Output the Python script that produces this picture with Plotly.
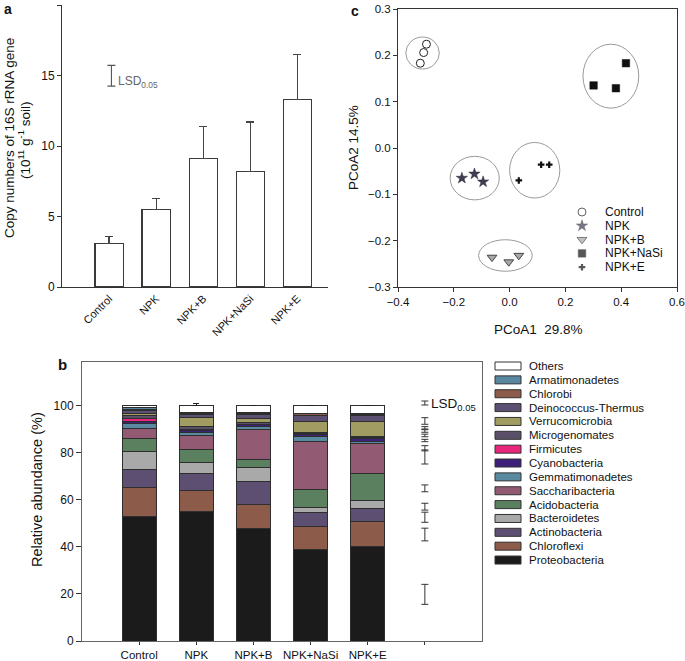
import plotly.graph_objects as go

# ---------------- data ----------------
# Panel a: 16S rRNA gene copy numbers
treatments = ["Control", "NPK", "NPK+B", "NPK+NaSi", "NPK+E"]
copy_numbers = [3.1, 5.5, 9.1, 8.2, 13.3]
copy_err = [0.5, 0.8, 2.3, 3.5, 3.2]
lsd_a_low, lsd_a_high = 14.25, 15.72

# Panel b: relative abundance (%) - stacked bottom -> top
phyla = ["Proteobacteria", "Chloroflexi", "Actinobacteria", "Bacteroidetes",
         "Acidobacteria", "Saccharibacteria", "Gemmatimonadetes", "Cyanobacteria",
         "Firmicutes", "Microgenomates", "Verrucomicrobia", "Deinococcus-Thermus",
         "Chlorobi", "Armatimonadetes", "Others"]
phyla_colors = ["#1b1b1b", "#8c5b49", "#5c4f72", "#a9a9a9",
                "#5b8060", "#925b73", "#5a8aa0", "#3d2079",
                "#e8267c", "#5a5068", "#a19c62", "#5b5072",
                "#8c5b49", "#5a87a0", "#ffffff"]
abund_control = [52.9, 12.3, 7.8, 7.6, 5.4, 4.5, 1.9, 1.2, 1.0, 1.4, 0.8, 1.2, 0.6, 0.6, 0.8]
abund_npk = [55.0, 9.0, 7.3, 4.7, 5.4, 6.1, 1.0, 1.0, 0.3, 1.3, 3.9, 1.2, 0.5, 0.4, 2.9]
abund_npkb = [47.7, 10.5, 9.6, 6.0, 3.6, 12.4, 1.3, 0.8, 0.2, 0.9, 1.8, 1.7, 0.4, 0.3, 2.8]
abund_npknasi = [39.0, 9.7, 5.9, 2.2, 7.5, 20.6, 2.2, 0.8, 0.2, 0.6, 4.9, 2.4, 0.6, 0.4, 3.0]
abund_npke = [40.1, 10.7, 5.7, 3.2, 11.6, 12.7, 1.0, 1.2, 0.2, 0.8, 6.1, 2.5, 0.5, 0.7, 3.0]
err_control = [0.9, 1.4, 0.8, 0.6, 0.5, 0.4, 0.3, 0.3, 0.3, 0.3, 0.3, 0.3, 0.3, 0.2, 0.0]
err_npk = [2.6, 3.1, 2.3, 1.0, 0.3, 0.3, 0.4, 0.3, 0.3, 0.6, 0.4, 0.5, 0.3, 0.3, 1.0]
err_npkb = [4.8, 0.3, 0.3, 1.8, 1.0, 0.3, 1.5, 0.4, 0.3, 0.4, 0.4, 0.3, 0.3, 0.2, 0.3]
err_npknasi = [2.7, 1.3, 1.0, 0.6, 1.8, 1.2, 1.5, 0.4, 0.3, 0.4, 1.4, 0.5, 0.3, 0.2, 0.3]
err_npke = [0.5, 1.7, 0.7, 0.8, 0.8, 0.3, 0.3, 0.4, 0.3, 0.4, 1.3, 0.5, 0.3, 0.3, 0.3]
lsd_b_low = [100.4, 92.2, 90.2, 88.8, 86.9, 84.8, 80.9, 75.3, 63.5, 55.7, 50.5, 42.6, 15.6]
lsd_b_high = [102.1, 95.0, 91.2, 89.9, 88.0, 85.8, 83.1, 81.3, 66.4, 58.6, 54.8, 48.0, 24.1]

# Panel c: PCoA scores
pc_groups = ["Control", "NPK", "NPK+B", "NPK+NaSi", "NPK+E"]
pc1 = {
    "Control": [-0.298, -0.308, -0.320],
    "NPK": [-0.171, -0.126, -0.095],
    "NPK+B": [-0.063, -0.003, 0.033],
    "NPK+NaSi": [0.301, 0.381, 0.417],
    "NPK+E": [0.033, 0.113, 0.142],
}
pc2 = {
    "Control": [0.224, 0.206, 0.183],
    "NPK": [-0.065, -0.056, -0.073],
    "NPK+B": [-0.236, -0.246, -0.232],
    "NPK+NaSi": [0.135, 0.129, 0.183],
    "NPK+E": [-0.070, -0.036, -0.036],
}
ell_cx = [-0.312, -0.125, -0.015, 0.363, 0.090]
ell_cy = [0.205, -0.065, -0.232, 0.155, -0.048]
ell_rx = [0.060, 0.088, 0.096, 0.100, 0.090]
ell_ry = [0.0345, 0.047, 0.034, 0.069, 0.060]

# ---------------- figure ----------------
W, H = 685, 661
FONT = "Arial, Liberation Sans, sans-serif"
fig = go.Figure()

# ---- panel a ----
xa = list(range(len(treatments)))
fig.add_trace(go.Bar(
    x=xa, y=copy_numbers, width=0.6, xaxis="x", yaxis="y",
    marker=dict(color="white", line=dict(color="#3a3a3a", width=1.2)),
    error_y=dict(type="data", symmetric=False, array=copy_err,
                 arrayminus=[0] * len(copy_err), color="#454545", thickness=1.2, width=4),
    showlegend=False, hoverinfo="skip"))
fig.add_trace(go.Scatter(
    x=[0.05], y=[(lsd_a_low + lsd_a_high) / 2], mode="markers", xaxis="x", yaxis="y",
    marker=dict(size=1, opacity=0),
    error_y=dict(type="data", array=[(lsd_a_high - lsd_a_low) / 2], color="#555",
                 thickness=1.1, width=4),
    showlegend=False, hoverinfo="skip"))

# ---- panel b ----
all_abund = [abund_control, abund_npk, abund_npkb, abund_npknasi, abund_npke]
all_err = [err_control, err_npk, err_npkb, err_npknasi, err_npke]
for k, name in enumerate(phyla):
    fig.add_trace(go.Bar(
        x=xa, y=[a[k] for a in all_abund], width=0.6, name=name,
        xaxis="x3", yaxis="y3",
        marker=dict(color=phyla_colors[k], line=dict(color="#2e2e2e", width=1)),
        error_y=dict(type="data", symmetric=False, array=[e[k] for e in all_err],
                     arrayminus=[0] * 5, color="#222", thickness=1, width=3),
        showlegend=False, hoverinfo="skip"))
fig.add_trace(go.Scatter(
    x=[5] * len(lsd_b_low), y=[(l + h) / 2 for l, h in zip(lsd_b_low, lsd_b_high)],
    mode="markers", xaxis="x3", yaxis="y3", marker=dict(size=1, opacity=0),
    error_y=dict(type="data", array=[(h - l) / 2 for l, h in zip(lsd_b_low, lsd_b_high)],
                 color="#333", thickness=1, width=3.5),
    showlegend=False, hoverinfo="skip"))

# ---- panel c ----
pc_style = {
    "Control": dict(symbol="circle", size=8, color="white", line=dict(color="#222", width=1)),
    "NPK": dict(symbol="star", size=8.5, color="#3e3d52", line=dict(color="#2a2a3a", width=0.5)),
    "NPK+B": dict(symbol="triangle-down", size=8.5, color="#a8a8a8", line=dict(color="#444", width=1)),
    "NPK+NaSi": dict(symbol="square", size=7.5, color="#111", line=dict(color="#111", width=0.5)),
    "NPK+E": dict(symbol="cross", size=5.5, color="#111", line=dict(width=0)),
}
for g in pc_groups:
    fig.add_trace(go.Scatter(x=pc1[g], y=pc2[g], mode="markers", xaxis="x2", yaxis="y2",
                             marker=pc_style[g], showlegend=False, hoverinfo="skip"))

shapes = []
for cx, cy, rx, ry in zip(ell_cx, ell_cy, ell_rx, ell_ry):
    shapes.append(dict(type="circle", xref="x2", yref="y2", x0=cx - rx, x1=cx + rx,
                       y0=cy - ry, y1=cy + ry, line=dict(color="#9a9a9a", width=1)))

# legend for panel c (pixel-coordinate helper axes)
leg_c_y0, leg_c_dy = 212, 13.8
fig.add_trace(go.Scatter(x=[582] * 5, y=[leg_c_y0 + i * leg_c_dy for i in range(5)],
                         mode="markers", xaxis="x4", yaxis="y4", showlegend=False,
                         hoverinfo="skip", marker=dict(
                             symbol=[pc_style[g]["symbol"] for g in pc_groups],
                             size=[pc_style[g]["size"] for g in pc_groups],
                             color=[pc_style[g]["color"] for g in pc_groups],
                             line=dict(color=["#222", "#2a2a3a", "#444", "#111", "#111"],
                                       width=[1, 0.5, 1, 0.5, 0]))))
annotations = []
for i, g in enumerate(pc_groups):
    annotations.append(dict(x=603, y=leg_c_y0 + i * leg_c_dy, xref="x4", yref="y4", text=g,
                            showarrow=False, xanchor="left", yanchor="middle",
                            font=dict(family=FONT, size=12, color="#111")))

# legend for panel b
leg_b_y0, leg_b_dy = 366, 13.86
for i, k in enumerate(reversed(range(len(phyla)))):
    yc = leg_b_y0 + i * leg_b_dy
    shapes.append(dict(type="rect", xref="x4", yref="y4", x0=495, x1=521, y0=yc - 4, y1=yc + 4,
                       fillcolor=phyla_colors[k], line=dict(color="#333", width=1)))
    annotations.append(dict(x=527, y=yc, xref="x4", yref="y4", text=phyla[k], showarrow=False,
                            xanchor="left", yanchor="middle",
                            font=dict(family=FONT, size=11.5, color="#111")))

# titles, labels
def ann(x, y, text, size, angle=0, xanchor="center", color="#111", bold=False):
    annotations.append(dict(x=x, y=y, xref="x4", yref="y4", text=f"<b>{text}</b>" if bold else text,
                            showarrow=False, textangle=angle, xanchor=xanchor, yanchor="middle",
                            font=dict(family=FONT, size=size, color=color)))

ann(8, 9, "a", 14, bold=True)
ann(62, 364, "b", 15, bold=True)
ann(355, 11, "c", 14, bold=True)
ann(9, 138, "Copy numbers of 16S rRNA gene", 13.5, angle=-90)
ann(24, 140, "(10<sup>11</sup> g<sup>-1</sup> soil)", 13.5, angle=-90)
ann(116, 82, "LSD<sub>0.05</sub>", 12, xanchor="left", color="#666")
ann(37, 490, "Relative abundance (%)", 14.5, angle=-90)
ann(429, 404, "LSD<sub>0.05</sub>", 13.5, xanchor="left")
ann(538, 329, "PCoA1  29.8%", 13.5)
ann(353, 148, "PCoA2 14.5%", 13.5, angle=-90)

tickfont = dict(family=FONT, size=12, color="#111")
axcommon = dict(showgrid=False, zeroline=False, showline=True, linecolor="#333", linewidth=1,
                ticks="outside", ticklen=4, tickcolor="#333", tickfont=tickfont, fixedrange=True,
                automargin=False)

fig.update_layout(
    width=W, height=H, margin=dict(l=0, r=0, t=0, b=0, autoexpand=False),
    paper_bgcolor="white", plot_bgcolor="rgba(0,0,0,0)",
    barmode="stack", showlegend=False,
    xaxis=dict(axcommon, domain=[62 / W, 328 / W], range=[-1, 4.65], anchor="y",
               tickvals=xa, ticktext=treatments, tickangle=-45, ticks="",
               tickfont=dict(family=FONT, size=11, color="#111")),
    yaxis=dict(axcommon, domain=[1 - 287 / H, 1 - 5 / H], range=[0, 20], anchor="x",
               tickvals=[0, 5, 10, 15, 20]),
    xaxis2=dict(axcommon, domain=[398 / W, 677 / W], range=[-0.4, 0.6], anchor="y2",
                tickvals=[-0.4, -0.2, 0.0, 0.2, 0.4, 0.6], tickformat=".1f", mirror=True,
                tickfont=dict(family=FONT, size=11.5, color="#111")),
    yaxis2=dict(axcommon, domain=[1 - 287 / H, 1 - 9 / H], range=[-0.3, 0.3], anchor="x2",
                tickvals=[-0.3, -0.2, -0.1, 0.0, 0.1, 0.2, 0.3], tickformat=".1f", mirror=True,
                tickfont=dict(family=FONT, size=11.5, color="#111")),
    xaxis3=dict(axcommon, domain=[82 / W, 482 / W], range=[-1, 6], anchor="y3",
                tickvals=xa + [5], ticktext=treatments + [""], mirror=True, linecolor="#666",
                ticklen=3, tickfont=dict(family=FONT, size=11.5, color="#111")),
    yaxis3=dict(axcommon, domain=[1 - 641 / H, 1 - 362 / H], range=[0, 118.7], anchor="x3",
                tickvals=[0, 20, 40, 60, 80, 100], mirror=True, linecolor="#666", ticklen=5),
    xaxis4=dict(domain=[0, 1], range=[0, W], anchor="y4", visible=False, fixedrange=True,
                automargin=False),
    yaxis4=dict(domain=[0, 1], range=[H, 0], anchor="x4", visible=False, fixedrange=True,
                automargin=False),
    shapes=shapes, annotations=annotations,
)

fig.write_html("out.html", config={"displayModeBar": False, "staticPlot": True},
               post_script="document.body.style.margin='0';document.body.style.overflow='hidden';")
